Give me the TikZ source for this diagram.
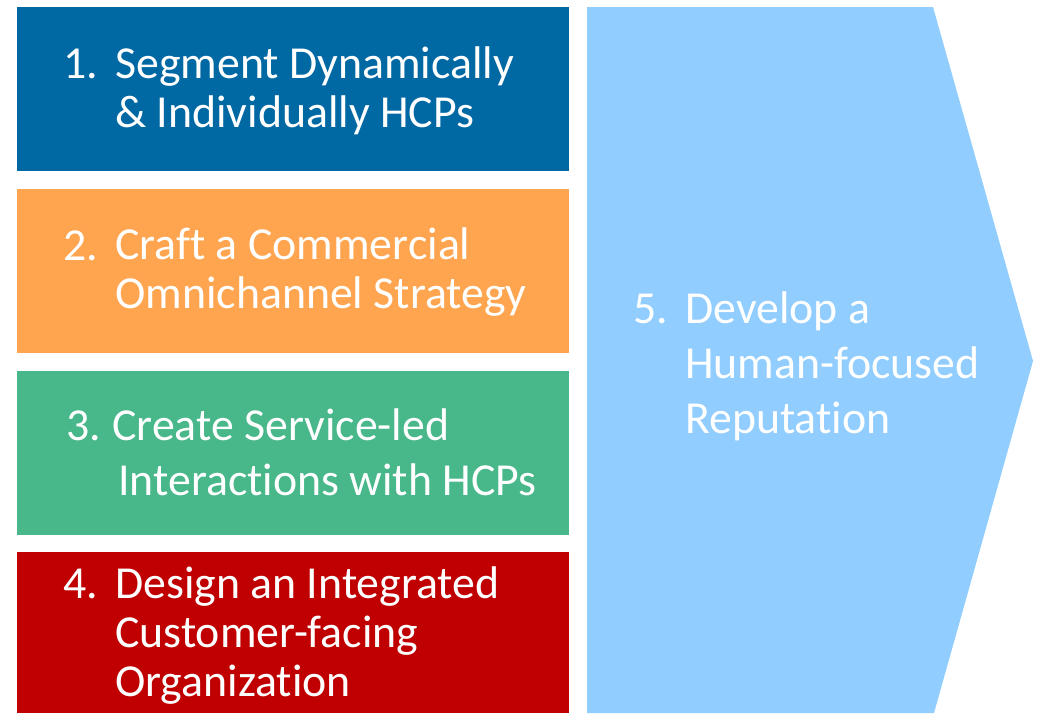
\documentclass[tikz,border=0pt]{standalone}
\usepackage{fontspec}
\setmainfont{Carlito}[Ligatures=NoCommon]
\usepackage{xcolor}
\definecolor{stepblue}{RGB}{0,104,163}
\definecolor{steporange}{RGB}{255,165,80}
\definecolor{stepgreen}{RGB}{72,183,137}
\definecolor{stepred}{RGB}{192,0,0}
\definecolor{steplight}{RGB}{145,205,254}

\begin{document}
\begin{tikzpicture}[x=1pt, y=-1pt,
    stepbox/.style={inner sep=0pt, outer sep=0pt, anchor=north west, minimum width=552pt, minimum height=164pt},
    stepnum/.style={text=white, anchor=base west, inner sep=0pt, font=\fontsize{45.8}{49}\selectfont},
    steptxt/.style={stepnum, align=left},
    wide/.style={font=\fontsize{45.8}{55}\selectfont}
]
\useasboundingbox (0,0) rectangle (1038,713);

% === Steps 1-4 ===
\node[stepbox, fill=stepblue] (segbox) at (17,7) {};
\node[stepbox, fill=steporange] (craftbox) at (17,189) {};
\node[stepbox, fill=stepgreen] (servbox) at (17,371) {};
\node[stepbox, fill=stepred, minimum height=161pt] (orgbox) at (17,552) {};

% === Step 5 (arrow) ===
\fill[steplight] (587,7) -- (933,7) -- (1033,361) -- (934,713) -- (587,713) -- cycle;

% Labels (multi-line text sits on its last baseline)
\node[stepnum] (segnum) at (63,78) {1.};
\node[steptxt] (segtxt) at (115,127) {Segment Dynamically\\\& Individually HCPs};

\node[stepnum] (craftnum) at (63,260) {2.};
\node[steptxt] (crafttxt) at (115,308) {Craft a Commercial\\Omnichannel Strategy};

\node[stepnum] (servnum) at (66,440) {3.};
\node[steptxt, wide] (servtxt) at (112,495) {Create Service-led\\\hspace*{6pt}Interactions with HCPs};

\node[stepnum] (orgnum) at (63,598) {4.};
\node[steptxt] (orgtxt) at (115,696) {Design an Integrated\\Customer-facing\\Organization};

\node[stepnum] (repnum) at (633,323) {5.};
\node[steptxt, wide] (reptxt) at (685,433) {Develop a\\Human-focused\\Reputation};

\end{tikzpicture}
\end{document}
